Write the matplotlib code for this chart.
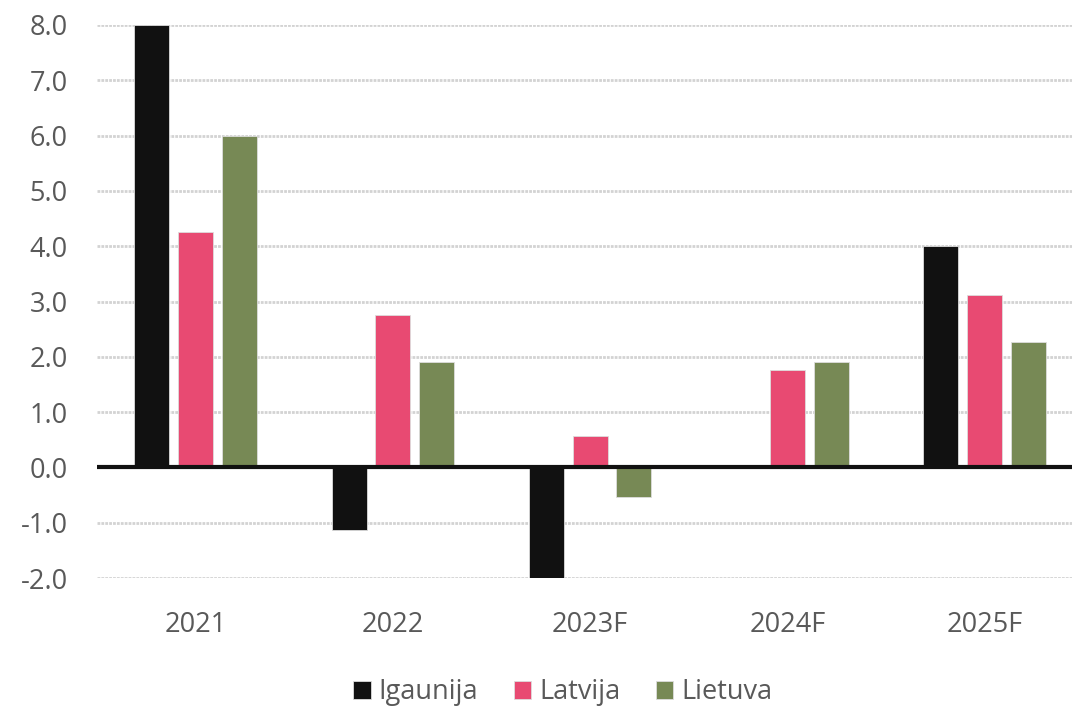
import numpy as np
import matplotlib.pyplot as plt

plt.rcParams['font.family'] = ['Open Sans', 'DejaVu Sans']

years = ["2021", "2022", "2023F", "2024F", "2025F"]
igaunija = [8.0, -1.13, -2.0, 0.0, 4.0]
latvija = [4.25, 2.75, 0.57, 1.77, 3.12]
lietuva = [6.0, 1.9, -0.53, 1.9, 2.27]

series = [("Igaunija", igaunija, "#111111"),
          ("Latvija", latvija, "#E84A72"),
          ("Lietuva", lietuva, "#778955")]

fig = plt.figure(figsize=(10.72, 7.12), dpi=100)
ax = fig.add_axes([0.0905, 0.188, 0.92, 0.777])

x = np.arange(len(years))
w = 0.178
offs = [-0.222, 0.0, 0.222]
for (name, vals, col), o in zip(series, offs):
    ax.bar(x + o, vals, w, color=col, label=name, edgecolor='#dddddd', linewidth=0.6, zorder=3)

ax.set_xlim(-0.5, len(years) - 0.5)
ax.set_ylim(-2.0, 8.0)
ax.set_yticks(np.arange(-2, 9, 1))
ax.set_yticklabels([f"{v:.1f}" for v in np.arange(-2, 9, 1)])
ax.set_xticks(x)
ax.set_xticklabels(years)
ax.grid(axis='y', color='#d3d3d3', linestyle=(0, (1, 0.4)), linewidth=2, zorder=0)
ax.axhline(0, color='#111111', linewidth=3, zorder=4)
for s in ax.spines.values():
    s.set_visible(False)
ax.tick_params(axis='both', length=0, labelsize=19.5, labelcolor='#595959')
ax.tick_params(axis='y', pad=21)
ax.tick_params(axis='x', pad=24)

fig.legend(loc='center', bbox_to_anchor=(0.525, 0.028), ncol=3, frameon=False,
           fontsize=19.5, labelcolor='#595959', handlelength=0.65, handleheight=0.65,
           handletextpad=0.3, columnspacing=1.3)

fig.savefig("out.png", dpi=100)
